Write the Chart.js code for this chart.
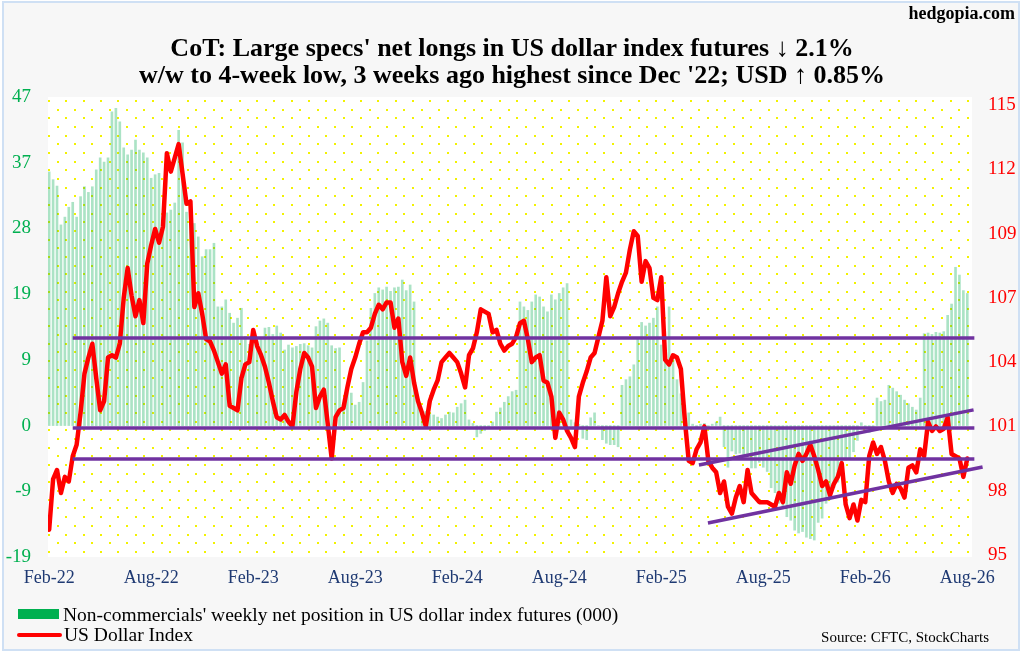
<!DOCTYPE html>
<html>
<head>
<meta charset="utf-8">
<script src="https://cdn.jsdelivr.net/npm/chart.js@4.4.1/dist/chart.umd.min.js"></script>
<style>
  body { margin: 0; background: #ffffff; width: 1024px; height: 654px; overflow: hidden; font-family: "Liberation Serif", "Times New Roman", serif; }
  #frame { position: absolute; left: 2px; top: 1px; width: 1014px; height: 646px; border: 2px solid #cfe0f4; background: #f7f7f7; }
  #c { position: absolute; left: 0; top: 0; }
  .txt { position: absolute; white-space: nowrap; line-height: 1; color: #000; }
  .title { left: 0; width: 1024px; text-align: center; font-weight: bold; font-size: 26px; }
</style>
</head>
<body>
<div id="frame"></div>
<canvas id="c" width="1024" height="654"></canvas>
<div class="txt" style="right:9px;top:4px;font-size:18px;font-weight:bold;">hedgopia.com</div>
<div class="txt title" style="top:35px;">CoT: Large specs' net longs in US dollar index futures ↓ 2.1%</div>
<div class="txt title" style="top:62px;">w/w to 4-week low, 3 weeks ago highest since Dec '22; USD ↑ 0.85%</div>
<div style="position:absolute;left:18px;top:609px;width:41px;height:10px;background:#00b050;"></div>
<div class="txt" style="left:63px;top:605px;font-size:19.5px;">Non-commercials' weekly net position in US dollar index futures (000)</div>
<div style="position:absolute;left:17px;top:633px;width:45px;height:4px;border-radius:2px;background:#ff0000;"></div>
<div class="txt" style="left:64px;top:625px;font-size:19.5px;">US Dollar Index</div>
<div class="txt" style="right:35px;top:630px;font-size:15px;">Source: CFTC, StockCharts</div>
<script>
// weekly data, Feb-22 .. Aug-26 (235 weeks)
const netPosition = [
  35.9, 34.8, 33.9, 28.4, 29.5, 30.9, 31.6, 29.5, 32.4, 33.8,
  33.0, 33.8, 36.2, 37.9, 37.3, 37.9, 44.4, 44.9, 43.0, 39.3,
  38.3, 39.0, 40.4, 39.0, 38.6, 37.9, 35.0, 35.5, 35.7, 29.1,
  30.1, 30.5, 31.5, 41.8, 40.0, 30.2, 30.9, 28.6, 26.7, 23.9,
  24.9, 24.9, 25.8, 16.8, 16.8, 17.8, 15.9, 14.5, 15.2, 16.6,
  12.6, 11.5, 11.8, 12.0, 12.3, 13.8, 13.9, 12.9, 14.1, 13.1,
  10.7, 11.4, 11.0, 11.2, 11.5, 11.6, 11.3, 11.0, 14.0, 14.8,
  15.1, 14.5, 11.3, 10.9, 11.0, 2.6, 5.0, 4.6, 2.9, 3.3,
  6.1, 12.0, 16.6, 18.7, 19.5, 19.2, 19.6, 19.0, 19.5, 19.6,
  20.6, 19.1, 19.9, 17.5, 3.6, 1.8, 2.0, 1.7, 1.5, 1.2,
  1.0, 1.5, 1.9, 1.8, 2.6, 3.1, 3.6, 0.8, 0.3, -1.6,
  -1.1, -0.7, -0.3, 0.5, 1.9, 2.5, 3.3, 4.1, 4.8, 5.0,
  17.5, 16.8, 16.3, 17.5, 18.5, 18.2, 16.8, 16.1, 18.5, 17.8,
  18.7, 19.5, 20.1, 0.8, 0.4, 0.2, -1.8, -2.0, 1.1, 1.8,
  0.0, -2.0, -2.5, -2.7, -2.7, -3.0, 5.7, 6.5, 6.9, 8.6,
  12.4, 14.6, 14.1, 14.5, 15.2, 16.8, 11.4, 10.4, 16.8, 9.3,
  6.5, 4.5, 2.9, 1.8, 0.2, -0.3, 0.2, 0.3, -0.2, 0.2,
  0.5, 1.2, -3.0, -5.9, -3.6, -4.0, -3.9, -4.2, -4.4, -6.0,
  -6.0, -5.2, -5.9, -6.5, -8.8, -9.5, -11.0, -11.7, -12.9, -13.4,
  -14.8, -15.2, -15.0, -15.8, -16.0, -16.2, -13.7, -13.1, -11.0, -10.5,
  -8.8, -8.0, -6.7, -4.9, -4.6, -3.7, -2.1, 0.4, -0.5, -1.0,
  -0.2, 3.9, 3.4, 3.6, 5.7, 5.3, 4.8, 4.3, 3.6, 3.1,
  2.6, 2.2, 3.9, 13.0, 13.1, 12.9, 13.2, 13.1, 13.3, 15.6,
  17.2, 22.4, 21.3, 19.1, 18.7
];
const usdIndex = [
  96.4, 98.6, 99.0, 98.0, 98.7, 98.5, 99.6, 100.1, 101.5, 103.2,
  103.9, 104.5, 103.0, 101.6, 102.0, 103.9, 104.0, 103.9, 104.5, 106.5,
  107.8, 106.6, 105.7, 106.4, 105.4, 108.0, 108.8, 109.5, 108.9, 109.6,
  112.8, 112.0, 112.6, 113.2, 111.9, 110.6, 110.7, 106.1, 106.7, 105.8,
  104.7, 104.6, 104.2, 103.7, 103.2, 103.6, 101.8, 101.7, 101.6, 103.0,
  103.6, 103.7, 105.1, 104.4, 104.0, 103.5, 102.8, 102.0, 101.3, 101.2,
  101.4, 101.1, 100.9, 102.4, 103.4, 104.1, 103.9, 103.5, 101.7, 102.2,
  102.5, 101.0, 99.5, 101.3, 101.6, 101.7, 102.6, 103.4, 103.9, 104.5,
  105.0, 105.0, 105.2, 105.8, 106.2, 106.0, 106.3, 106.3, 105.2, 105.6,
  103.7, 103.1, 103.9, 102.8, 102.0, 101.5, 100.9, 102.0, 102.5, 102.9,
  103.7, 103.9, 104.1, 103.9, 103.7, 103.2, 102.6, 104.0, 104.3, 105.0,
  106.0, 105.9, 105.8, 105.0, 105.1, 104.5, 104.2, 104.4, 104.5, 104.8,
  105.4, 105.5, 104.7, 103.7, 103.9, 104.0, 102.9, 102.8, 102.2, 100.4,
  101.5, 101.2, 100.7, 100.4, 100.0, 102.2, 102.8, 103.3, 103.9, 104.1,
  104.8, 105.5, 107.4, 105.7, 106.1, 106.7, 107.2, 107.6, 108.6, 109.4,
  109.2, 107.2, 108.1, 107.8, 106.5, 106.4, 107.4, 103.8, 103.6, 104.0,
  103.9, 103.4, 101.2, 99.4, 99.3, 99.9, 100.2, 100.9, 99.4, 99.1,
  98.9, 98.0, 98.5, 97.4, 97.1, 97.8, 98.3, 97.6, 99.0, 98.0,
  97.8, 97.6, 97.6, 97.6, 97.5, 97.4, 98.0, 97.6, 98.9, 98.4,
  99.2, 99.7, 99.4, 99.7, 100.1, 99.6, 99.0, 98.3, 98.5, 97.9,
  98.4, 98.7, 99.3, 97.5, 96.9, 97.5, 96.8, 97.7, 97.6, 99.6,
  100.2, 99.7, 100.0, 99.4, 98.5, 98.0, 98.4, 98.2, 97.8, 99.1,
  99.2, 98.9, 99.9, 99.6, 101.1, 100.7, 100.9, 100.7, 100.8, 101.3,
  99.7, 99.6, 99.5, 98.7, 99.5
];
const xTickLabels = ['Feb-22', 'Aug-22', 'Feb-23', 'Aug-23', 'Feb-24', 'Aug-24', 'Feb-25', 'Aug-25', 'Feb-26', 'Aug-26'];
const weeksPerTick = 26;
const leftTickLabels = ['-19', '-9', '0', '9', '19', '28', '37', '47'];
const rightTickLabels = ['95', '98', '101', '104', '107', '109', '112', '115'];
// horizontal USD levels [start week, end week, level]
const usdLevels = [[6, 235.8, 104.75], [6, 235.8, 100.83], [6, 235.8, 99.48]];
// rising channel [week, usd] pairs
const channelLower = [[167.9, 96.69], [237.9, 99.13]];
const channelUpper = [[165.6, 99.22], [235.6, 101.62]];

const leftMin = -18.6, leftStep = 9.3;
const rightMin = 95.3, rightStep = 2.8;

const dotsPlugin = {
  id: 'dots',
  beforeDatasetsDraw(chart) {
    const { ctx, chartArea: a } = chart;
    ctx.save();
    ctx.fillStyle = '#ffffff';
    ctx.fillRect(a.left, a.top, a.right - a.left, a.bottom - a.top);
    ctx.fillStyle = '#f2f200';
    const gap = 8.67;
    let row = 0;
    for (let y = a.top + 3; y < a.bottom - 2; y += gap, row++) {
      for (let x = a.left + (row % 2 ? gap : 0); x < a.right - 2; x += gap * 2) {
        ctx.fillRect(Math.round(x), Math.round(y), 2, 2);
      }
    }
    ctx.restore();
  }
};

const purple = '#7032a0';
const lineDs = (pts) => ({
  type: 'line', yAxisID: 'y1', data: pts.map(p => ({ x: p[0], y: p[1] })),
  borderColor: purple, borderWidth: 3.5, pointRadius: 0, clip: false, order: 0
});

new Chart(document.getElementById('c'), {
  type: 'bar',
  data: {
    datasets: [
      ...usdLevels.map(l => lineDs([[l[0], l[2]], [l[1], l[2]]])),
      lineDs(channelLower),
      lineDs(channelUpper),
      {
        type: 'line', label: 'US Dollar Index', yAxisID: 'y1',
        data: usdIndex.map((v, i) => ({ x: i, y: v })),
        borderColor: '#ff0000', borderWidth: 4.5, pointRadius: 0,
        borderJoinStyle: 'round', borderCapStyle: 'round', tension: 0, order: 1
      },
      {
        label: "Non-commercials' weekly net position",
        yAxisID: 'y',
        data: netPosition.map((v, i) => ({ x: i, y: v })),
        backgroundColor: 'rgba(0,170,80,0.33)', barThickness: 2, order: 2
      }
    ]
  },
  options: {
    responsive: false,
    animation: false,
    events: [],
    layout: { padding: { top: 97, bottom: 67, left: 0, right: 0 } },
    plugins: { legend: { display: false }, tooltip: { enabled: false } },
    scales: {
      x: {
        type: 'linear', min: -0.3, max: 235.2, offset: false,
        grid: { display: false, drawTicks: false }, border: { display: false },
        afterBuildTicks: s => { s.ticks = xTickLabels.map((_, k) => ({ value: k * weeksPerTick })); },
        afterFit: s => { s.height = 30; },
        ticks: {
          autoSkip: false, maxRotation: 0, padding: 10, color: '#1f3a73',
          font: { family: 'Liberation Serif', size: 18 },
          callback: (v, i) => xTickLabels[i]
        }
      },
      y: {
        position: 'left', min: leftMin, max: leftMin + leftStep * 7,
        grid: { display: false, drawTicks: false }, border: { display: false },
        afterBuildTicks: s => { s.ticks = leftTickLabels.map((_, k) => ({ value: leftMin + k * leftStep })); },
        afterFit: s => { s.width = 48; },
        ticks: {
          padding: 17, color: '#00b050',
          font: { family: 'Liberation Serif', size: 19 },
          callback: (v, i) => leftTickLabels[i]
        }
      },
      y1: {
        position: 'right', min: 95.21, max: 115.25,
        grid: { display: false, drawTicks: false }, border: { display: false },
        afterBuildTicks: s => { s.ticks = rightTickLabels.map((_, k) => ({ value: rightMin + k * rightStep })); },
        afterFit: s => { s.width = 52; },
        ticks: {
          padding: 16, color: '#ff0000',
          font: { family: 'Liberation Serif', size: 19 },
          callback: (v, i) => rightTickLabels[i]
        }
      }
    }
  },
  plugins: [dotsPlugin]
});
</script>
</body>
</html>
